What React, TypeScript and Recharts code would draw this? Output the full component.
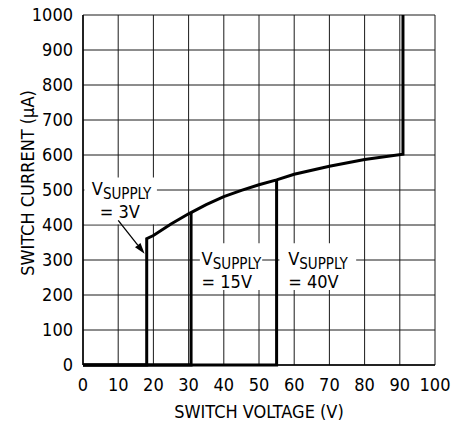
import { LineChart, Line, XAxis, YAxis, CartesianGrid, ReferenceArea, ReferenceDot, ReferenceLine, Label } from 'recharts';

const FONT = '"Liberation Sans Narrow", "Arial Narrow", "DejaVu Sans Condensed", Arial, sans-serif';

// shared current curve once the switch turns on (V, µA)
const curveVolts = [20, 25, 30, 35, 40, 45, 50, 55, 60, 70, 80, 90.9, 90.9];
const curveMicroAmps = [370, 403, 432, 458, 481, 499, 515, 529, 545, 568, 587, 602, 1000];

// each supply: zero current until the turn-on voltage, then the step up
const supply3Volts = [0, 18.1, 18.1];
const supply3MicroAmps = [0, 0, 361];
const supply15Volts = [0, 30.7, 30.7];
const supply15MicroAmps = [0, 0, 436];
const supply40Volts = [0, 55, 55];
const supply40MicroAmps = [0, 0, 529];

const xTicks = [0, 10, 20, 30, 40, 50, 60, 70, 80, 90, 100];
const yTicks = [0, 100, 200, 300, 400, 500, 600, 700, 800, 900, 1000];

const zip = (xs: number[], ys: number[]) => xs.map((v, i) => ({ v, i: ys[i] }));

const series3 = [...zip(supply3Volts, supply3MicroAmps), ...zip(curveVolts, curveMicroAmps)];
const series15 = zip(supply15Volts, supply15MicroAmps);
const series40 = zip(supply40Volts, supply40MicroAmps);

type Note = { x: number; y: number; value: string; eqShift: number; box: [number, number, number, number] };

const notes: Note[] = [
  { x: 2.5, y: 500, value: '= 3V', eqShift: 8, box: [0.4, 21, 402, 536] },
  { x: 33.7, y: 300, value: '= 15V', eqShift: 0, box: [33.2, 50.9, 214, 348] },
  { x: 58.3, y: 300, value: '= 40V', eqShift: 0, box: [55.8, 77.6, 214, 348] },
];

function NoteText({ cx, cy, value, eqShift }: { cx?: number; cy?: number; value: string; eqShift: number }) {
  if (cx == null || cy == null) return null;
  return (
    <g fontFamily={FONT} fill="#000">
      <text x={cx} y={cy + 5} fontSize={18}>
        V<tspan dy={4} fontSize={15}>SUPPLY</tspan>
      </text>
      <text x={cx + eqShift} y={cy + 28} fontSize={18}>
        {value}
      </text>
    </g>
  );
}

function Arrow(props: any) {
  const { x1, y1, x2, y2 } = props;
  if ([x1, y1, x2, y2].some((n) => n == null || isNaN(n))) return null;
  const ang = Math.atan2(y2 - y1, x2 - x1);
  const len = 11;
  const half = 3.5;
  const bx = x2 - len * Math.cos(ang);
  const by = y2 - len * Math.sin(ang);
  const px = -Math.sin(ang) * half;
  const py = Math.cos(ang) * half;
  return (
    <g>
      <line x1={x1} y1={y1} x2={bx} y2={by} stroke="#000" strokeWidth={1.3} />
      <polygon points={`${x2},${y2} ${bx + px},${by + py} ${bx - px},${by - py}`} fill="#000" />
    </g>
  );
}

export default function App() {
  return (
    <div style={{ position: 'absolute', left: 0, top: 0, width: 467, height: 424, background: '#fff' }}>
      <LineChart width={467} height={424} margin={{ top: 15, right: 32, left: 0, bottom: 0 }}>
        <CartesianGrid stroke="#1a1a1a" strokeWidth={1} />
        <XAxis
          type="number"
          dataKey="v"
          domain={[0, 100]}
          ticks={xTicks}
          interval={0}
          height={59}
          axisLine={{ stroke: '#000', strokeWidth: 1.5 }}
          tickLine={false}
          tickSize={8}
          tickMargin={5}
          tick={{ fill: '#000', fontSize: 18, fontFamily: FONT }}
        >
          <Label
            content={({ viewBox }: any) => (
              <text
                x={viewBox.x + viewBox.width / 2}
                y={418}
                textAnchor="middle"
                fontSize={18}
                fontFamily={FONT}
                fill="#000"
              >
                SWITCH VOLTAGE (V)
              </text>
            )}
          />
        </XAxis>
        <YAxis
          type="number"
          dataKey="i"
          domain={[0, 1000]}
          ticks={yTicks}
          interval={0}
          width={83}
          axisLine={{ stroke: '#000', strokeWidth: 1.5 }}
          tickLine={false}
          tickSize={8}
          tickMargin={2}
          tick={{ fill: '#000', fontSize: 18, fontFamily: FONT }}
        >
          <Label
            content={({ viewBox }: any) => {
              const cy = viewBox.y + viewBox.height / 2 - 7;
              return (
                <text
                  x={34}
                  y={cy}
                  transform={`rotate(-90, 34, ${cy})`}
                  textAnchor="middle"
                  fontSize={18}
                  fontFamily={FONT}
                  fill="#000"
                >
                  SWITCH CURRENT (µA)
                </text>
              );
            }}
          />
        </YAxis>
        {notes.map((n, k) => (
          <ReferenceArea
            key={`box-${k}`}
            x1={n.box[0]}
            x2={n.box[1]}
            y1={n.box[2]}
            y2={n.box[3]}
            fill="#fff"
            fillOpacity={1}
            stroke="none"
          />
        ))}
        <Line data={series40} dataKey="i" type="linear" stroke="#000" strokeWidth={3} dot={false} isAnimationActive={false} />
        <Line data={series15} dataKey="i" type="linear" stroke="#000" strokeWidth={3} dot={false} isAnimationActive={false} />
        <Line data={series3} dataKey="i" type="linear" stroke="#000" strokeWidth={3} dot={false} isAnimationActive={false} />
        <ReferenceLine
          segment={[
            { x: 10, y: 413 },
            { x: 17.5, y: 318 },
          ]}
          shape={<Arrow />}
        />
        {notes.map((n, k) => (
          <ReferenceDot
            key={`note-${k}`}
            x={n.x}
            y={n.y}
            r={0}
            shape={(p: any) => <NoteText cx={p.cx} cy={p.cy} value={n.value} eqShift={n.eqShift} />}
          />
        ))}
      </LineChart>
    </div>
  );
}
